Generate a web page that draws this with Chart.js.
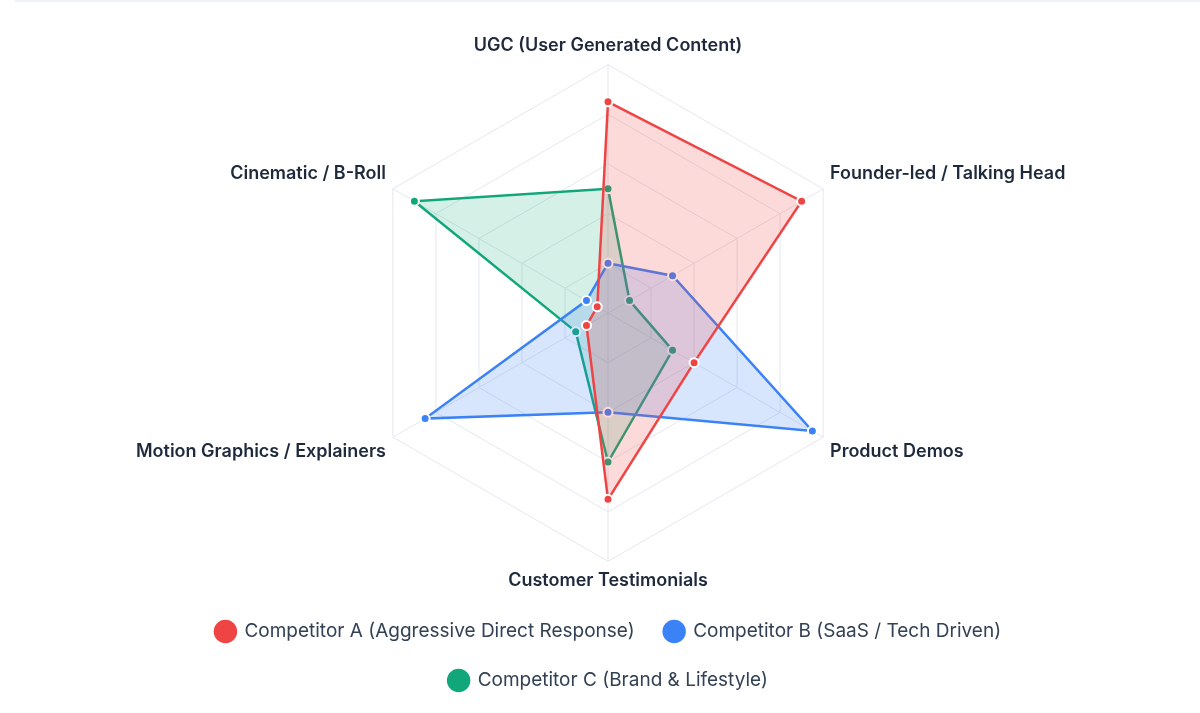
<!DOCTYPE html>
<html>
<head>
<meta charset="utf-8">
<script src="https://cdn.jsdelivr.net/npm/chart.js@4.4.1/dist/chart.umd.min.js"></script>
<style>
  html, body { margin: 0; padding: 0; background: #fff; overflow: hidden; }
  .card-line { position: absolute; top: 0; left: 15px; right: 0; height: 2px; background: #eef1f5; }
  .wrap { position: absolute; top: 0; left: 17px; width: 1183px; height: 700px; }
</style>
</head>
<body>
<div class="card-line"></div>
<div class="wrap"><canvas id="radar"></canvas></div>
<script>
const categories = [
  'UGC (User Generated Content)',
  'Founder-led / Talking Head',
  'Product Demos',
  'Customer Testimonials',
  'Motion Graphics / Explainers',
  'Cinematic / B-Roll',
];
const seriesNames = [
  'Competitor A (Aggressive Direct Response)',
  'Competitor B (SaaS / Tech Driven)',
  'Competitor C (Brand & Lifestyle)',
];
const competitorA = [85, 90, 40, 75, 10, 5];
const competitorB = [20, 30, 95, 40, 85, 10];
const competitorC = [50, 10, 30, 60, 15, 90];

const RED = '#ef4444';
const BLUE = '#3b82f6';
const GREEN = '#12a67b';
const GRID_COLOR = '#e3e8ef';
const LABEL_COLOR = '#1e293b';

function ds(label, data, color, fill) {
  return {
    label,
    data,
    borderColor: color,
    backgroundColor: fill,
    pointBackgroundColor: color,
    pointBorderColor: '#fff',
    pointBorderWidth: 2,
    pointRadius: 4.5,
    borderWidth: 2.5,
    fill: true,
  };
}

new Chart(document.getElementById('radar').getContext('2d'), {
  type: 'radar',
  data: {
    labels: categories,
    datasets: [
      ds(seriesNames[0], competitorA, RED, 'rgba(239,68,68,0.2)'),
      ds(seriesNames[1], competitorB, BLUE, 'rgba(59,130,246,0.2)'),
      ds(seriesNames[2], competitorC, GREEN, 'rgba(18,170,120,0.18)'),
    ],
  },
  options: {
    responsive: true,
    maintainAspectRatio: false,
    animation: false,
    layout: { padding: { top: 36 } },
    plugins: {
      legend: {
        position: 'bottom',
        labels: {
          usePointStyle: true,
          pointStyle: 'circle',
          boxHeight: 18,
          padding: 30,
          color: '#334155',
          font: { family: 'Inter, sans-serif', size: 19 },
        },
      },
      tooltip: { enabled: false },
    },
    scales: {
      r: {
        min: 0,
        max: 100,
        ticks: { stepSize: 20, display: false },
        grid: { color: GRID_COLOR },
        angleLines: { color: GRID_COLOR },
        pointLabels: {
          color: LABEL_COLOR,
          padding: 8,
          font: { family: 'Inter, sans-serif', size: 18, weight: '600' },
        },
      },
    },
  },
});
</script>
</body>
</html>
